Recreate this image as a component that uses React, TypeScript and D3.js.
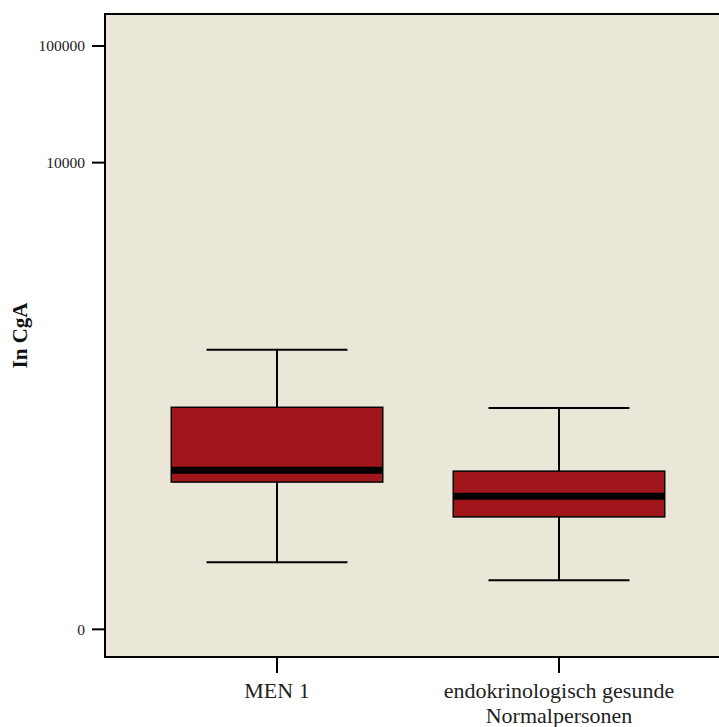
import React from "react";
import * as d3 from "d3";

const categories = ["MEN 1", "endokrinologisch gesunde\nNormalpersonen"];
const whiskerLow = [2.75, 1.63];
const q1 = [17.3, 8.2];
const median = [22.1, 12.8];
const q3 = [79, 21.7];
const whiskerHigh = [248, 78];
const yTicks = [0, 10000, 100000];
const yLabel = "In CgA";

const W = 719;
const H = 727;
const plotL = 105;
const plotR = 731;
const plotT = 14;
const plotB = 657;

export default function App() {
  const x = d3.scalePoint<string>().domain(categories).range([plotL, plotR]).padding(0.61);
  const y = d3
    .scaleSymlog()
    .constant(1)
    .domain([-0.726, 187932])
    .range([plotB, plotT]);
  const boxW = x.step() * 0.75;
  const capW = boxW / 3;
  const font = "Liberation Serif, Times New Roman, serif";

  return (
    <svg
      width={W}
      height={H}
      style={{ position: "absolute", left: 0, top: 0, background: "#fff" }}
    >
      <rect x={plotL} y={plotT} width={plotR - plotL} height={plotB - plotT} fill="#EAE7D8" />
      {categories.map((c, i) => {
        const cx = x(c)!;
        return (
          <g key={c}>
            <line x1={cx} x2={cx} y1={y(whiskerHigh[i])} y2={y(q3[i])} stroke="#000" strokeWidth={2} />
            <line x1={cx} x2={cx} y1={y(q1[i])} y2={y(whiskerLow[i])} stroke="#000" strokeWidth={2} />
            <line x1={cx - capW} x2={cx + capW} y1={y(whiskerHigh[i])} y2={y(whiskerHigh[i])} stroke="#000" strokeWidth={2} />
            <line x1={cx - capW} x2={cx + capW} y1={y(whiskerLow[i])} y2={y(whiskerLow[i])} stroke="#000" strokeWidth={2} />
            <rect
              x={cx - boxW / 2}
              y={y(q3[i])}
              width={boxW}
              height={y(q1[i]) - y(q3[i])}
              fill="#A1161B"
              stroke="#000"
              strokeWidth={1.5}
            />
            <line
              x1={cx - boxW / 2}
              x2={cx + boxW / 2}
              y1={y(median[i])}
              y2={y(median[i])}
              stroke="#000"
              strokeWidth={7}
            />
          </g>
        );
      })}
      {/* frame */}
      <line x1={plotL} x2={plotL} y1={plotT - 1} y2={plotB + 1} stroke="#000" strokeWidth={2} />
      <line x1={plotL - 1} x2={plotR} y1={plotT} y2={plotT} stroke="#000" strokeWidth={2} />
      <line x1={plotL - 1} x2={plotR} y1={plotB} y2={plotB} stroke="#000" strokeWidth={2} />
      {/* y ticks */}
      {yTicks.map((t) => (
        <g key={t}>
          <line x1={92} x2={plotL} y1={y(t)} y2={y(t)} stroke="#000" strokeWidth={2} />
          <text
            x={85}
            y={y(t)}
            textAnchor="end"
            dominantBaseline="central"
            fontFamily={font}
            fontSize={15.5}
            fill="#222"
          >
            {t}
          </text>
        </g>
      ))}
      {/* x ticks */}
      {categories.map((c) => {
        const cx = x(c)!;
        const lines = c.split("\n");
        return (
          <g key={c}>
            <line x1={cx} x2={cx} y1={plotB} y2={plotB + 16} stroke="#000" strokeWidth={2} />
            <text textAnchor="middle" fontFamily={font} fontSize={22} fill="#222">
              {lines.map((l, k) => (
                <tspan key={k} x={cx} y={698 + k * 25}>
                  {l}
                </tspan>
              ))}
            </text>
          </g>
        );
      })}
      <text
        transform={`translate(27, ${(plotT + plotB) / 2}) rotate(-90)`}
        textAnchor="middle"
        fontFamily={font}
        fontSize={21}
        fontWeight="bold"
        fill="#111"
      >
        {yLabel}
      </text>
    </svg>
  );
}
